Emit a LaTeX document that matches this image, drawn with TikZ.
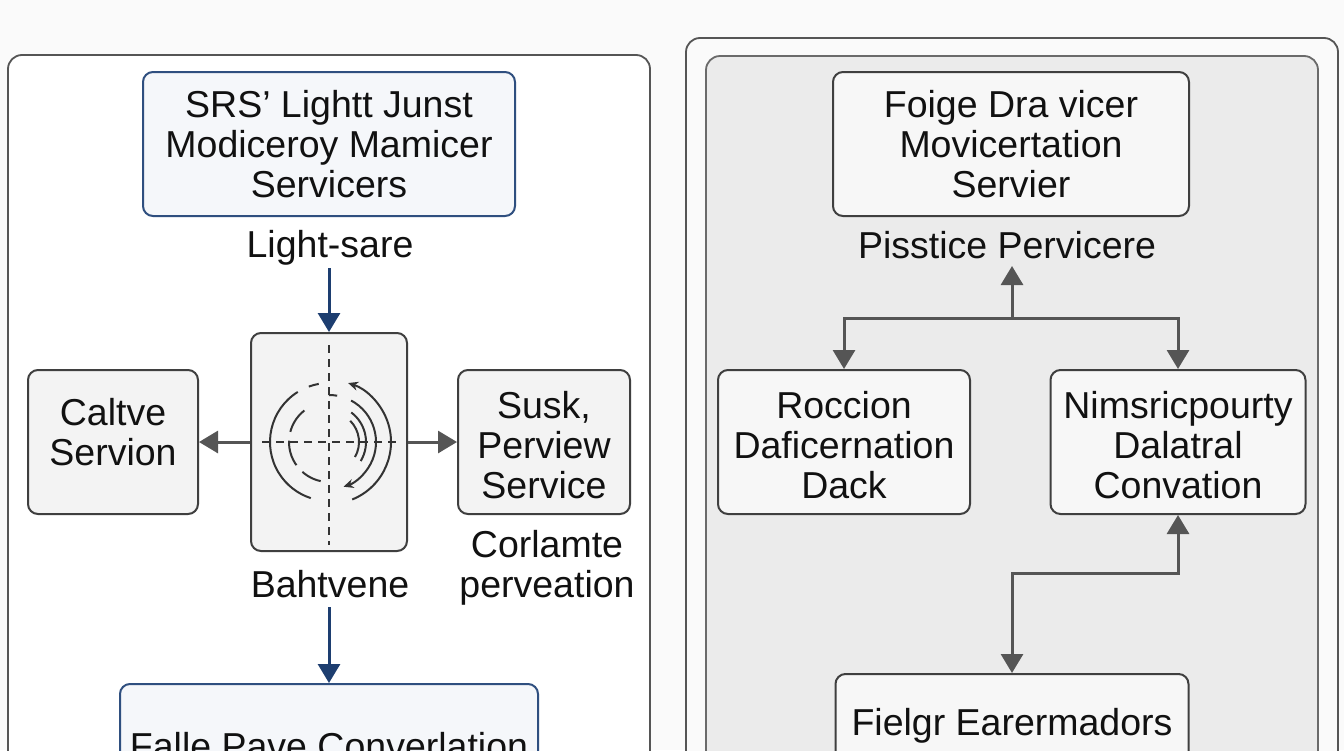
\documentclass[tikz,border=0pt]{standalone}
\usepackage{fontspec}
\setmainfont{Liberation Sans}
\usetikzlibrary{arrows.meta}
\definecolor{bgc}{HTML}{FAFAFA}
\definecolor{panelline}{HTML}{555555}
\definecolor{innerfill}{HTML}{EBEBEB}
\definecolor{innerline}{HTML}{6A6A6A}
\definecolor{bluel}{HTML}{2F4F7F}
\definecolor{bluef}{HTML}{F5F7FA}
\definecolor{bluea}{HTML}{1D3E70}
\definecolor{grayl}{HTML}{3F3F3F}
\definecolor{grayf}{HTML}{F3F3F3}
\definecolor{graya}{HTML}{555555}
\definecolor{ink}{HTML}{111111}
\definecolor{glyph}{HTML}{333333}
\begin{document}
\begin{tikzpicture}[x=1pt,y=-1pt,
  txt/.style={font=\fontsize{37.5}{40}\selectfont, text=ink, align=center, inner sep=0pt},
  bluebox/.style={txt, draw=bluel, fill=bluef, line width=2pt, rounded corners=10pt},
  graybox/.style={txt, draw=grayl, fill=grayf, line width=2pt, rounded corners=10pt},
  rgraybox/.style={txt, draw=grayl, fill=grayf!70!white, line width=2pt, rounded corners=10pt},
  bluearr/.style={draw=bluea, line width=3pt, -{Triangle[width=22pt,length=19pt]}},
  grayarr/.style={draw=graya, line width=3pt, -{Triangle[width=22pt,length=19pt]}},
  grayarrboth/.style={draw=graya, line width=3pt, {Triangle[width=22pt,length=19pt]}-{Triangle[width=22pt,length=19pt]}},
  panel/.style={draw=panelline, line width=1.8pt, rounded corners=14pt},
  glyphline/.style={draw=glyph, line width=2pt},
  glypharr/.style={draw=glyph, line width=2pt, -{Stealth[length=10pt,width=9pt]}},
  crossdash/.style={draw=glyph, line width=2pt, dash pattern=on 8pt off 6pt}
]
\useasboundingbox (0,0) rectangle (1344,750);
\fill[bgc] (0,0) rectangle (1344,750);

% ---------- left panel ----------
\path[panel, fill=white] (8,55) rectangle (650,820);

\node[bluebox, minimum width=372pt, minimum height=144pt] (b1) at (329,144)
  {SRS’ Lightt Junst\\Modiceroy Mamicer\\Servicers};
\node[txt] (lab1) at (330,248) {Light-sare};
\coordinate (a1) at (329,268);

\node[graybox, minimum width=156pt, minimum height=218pt] (mid) at (329,442) {};
\node[graybox, minimum width=170pt, minimum height=144pt] (lbox) at (113,442) {};
\node[txt] (lboxt) at (113,432) {Caltve\\Servion};
\node[graybox, minimum width=172pt, minimum height=144pt] (rbox) at (544,442) {};
\node[txt] (rboxt) at (544,445) {Susk,\\Perview\\Service};
\node[txt] (lab3) at (547,568) {Corlamte\\perveation};
\node[txt] (lab4) at (330,584) {Bahtvene};
\coordinate (a4) at (329,607);

\node[bluebox, minimum width=418pt, minimum height=140pt, anchor=north] (b5) at (329,683) {};
\node[txt, anchor=base] (b5t) at (329,759) {Falle Pave Converlation};

\draw[bluearr] (a1) -- (mid.north);
\draw[grayarr] (mid.west) -- (lbox.east);
\draw[grayarr] (mid.east) -- (rbox.west);
\draw[bluearr] (a4) -- (b5.north);

% glyph inside middle box
\coordinate (c) at (329,442);
\draw[crossdash] (329,345) -- (329,545);
\draw[crossdash] (262,442) -- (400,442);
\draw[glyphline] ([shift={(122:59pt)}]c) arc[start angle=122, end angle=252, radius=59pt];
\draw[glyphline] ([shift={(100:59pt)}]c) arc[start angle=100, end angle=110, radius=59pt];
\draw[glyphline] ([shift={(90:47pt)}]c) arc[start angle=90, end angle=80, radius=47pt];
\draw[glypharr] ([shift={(62:47pt)}]c) arc[start angle=62, end angle=-72, radius=47pt];
\draw[glypharr] ([shift={(-68:62pt)}]c) arc[start angle=-68, end angle=72, radius=62pt];
\draw[glyphline, dash pattern=on 26pt off 9pt] ([shift={(128:40pt)}]c) arc[start angle=128, end angle=258, radius=40pt];
\draw[glyphline] ([shift={(53:37pt)}]c) arc[start angle=53, end angle=-31, radius=37pt];
\draw[glyphline] ([shift={(45:30pt)}]c) arc[start angle=45, end angle=-30, radius=30pt];

% ---------- right panel ----------
\path[panel, fill=bgc] (686,38) rectangle (1338,820);
\path[panel, draw=innerline, fill=innerfill] (706,56) rectangle (1318,820);

\node[rgraybox, minimum width=356pt, minimum height=144pt] (tbox) at (1011,144)
  {Foige Dra vicer\\Movicertation\\Servier};
\node[txt] (lab2) at (1007,245) {Pisstice Pervicere};
\coordinate (a2) at (1012,266);
\coordinate (j) at (1012,318);

\node[rgraybox, minimum width=252pt, minimum height=144pt] (rbl) at (844,442) {};
\node[txt] (rblt) at (844,445) {Roccion\\Daficernation\\Dack};
\node[rgraybox, minimum width=255pt, minimum height=144pt] (rbr) at (1178,442) {};
\node[txt] (rbrt) at (1178,445) {Nimsricpourty\\Dalatral\\Convation};

\node[rgraybox, minimum width=353pt, minimum height=150pt, anchor=north] (fbox) at (1012,673) {};
\node[txt, anchor=base] (fboxt) at (1012,735) {Fielgr Earermadors};

\draw[grayarr] (j) -- (a2);
\draw[grayarr] (j) -| (rbl.north);
\draw[grayarr] (j) -| (rbr.north);
\draw[grayarrboth] (fbox.north) -- ++(0,-100) -| (rbr.south);
\end{tikzpicture}
\end{document}
